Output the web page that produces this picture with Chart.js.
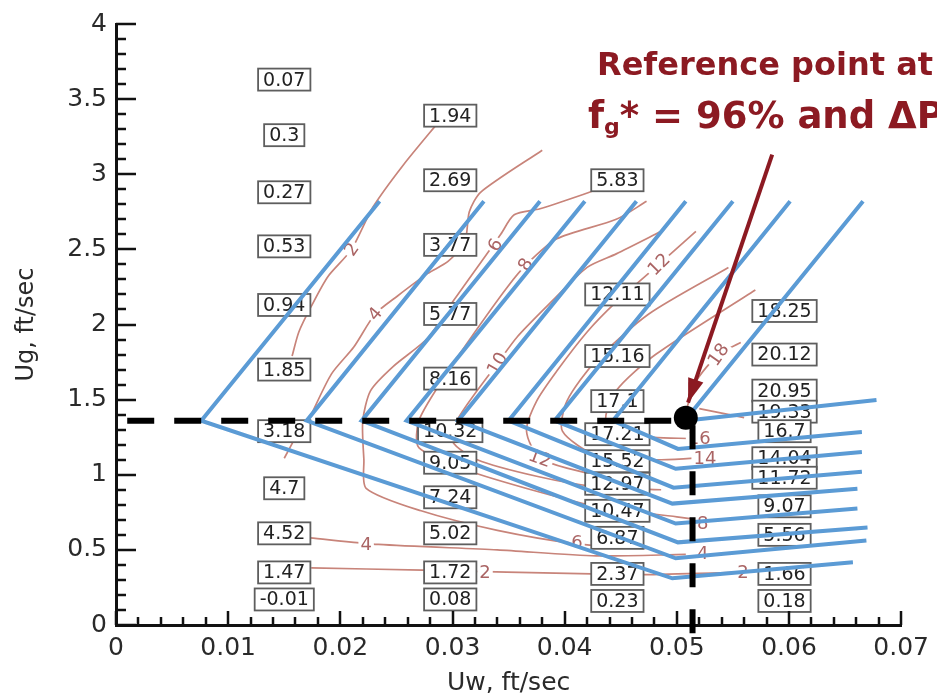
<!DOCTYPE html>
<html>
<head>
<meta charset="utf-8">
<script src="https://cdn.jsdelivr.net/npm/chart.js@4.4.1/dist/chart.umd.min.js"></script>
<style>
  html, body { margin: 0; padding: 0; background: #fff; }
</style>
</head>
<body>
<canvas id="ugChart" width="937" height="698"></canvas>
<script>
// --- chevron lines (blue): top end -> vertex on dashed line -> bend -> right end
const vertexX = [0.0076, 0.0170, 0.0219, 0.0259, 0.0305, 0.0350, 0.0391, 0.0443, 0.0507];
const vertexY = 1.36;
const topX = [0.0235, 0.0328, 0.0378, 0.0418, 0.0464, 0.0508, 0.0550, 0.0601, 0.0666];
const topY = 2.82;
const bendX = [0.0496, 0.0499, 0.0501, 0.0499, 0.0496, 0.0497, 0.0499, 0.0501, null];
const bendY = [0.311, 0.444, 0.550, 0.675, 0.808, 0.914, 1.040, 1.172, null];
const endX = [0.0657, 0.0669, 0.0670, 0.0661, 0.0661, 0.0665, 0.0665, 0.0665, 0.0678];
const endY = [0.417, 0.563, 0.649, 0.775, 0.907, 1.020, 1.152, 1.285, 1.497];

// --- reference point, dashed guides, arrow
const refPoint = { x: 0.0508, y: 1.38 };
const hDashX = [0.001, 0.0508];
const dashY = 1.36;
const vDashX = 0.0514;
const vDashY = [1.33, -0.15];
const arrowFrom = { x: 0.0585, y: 3.13 };
const arrowTo = { x: 0.0510, y: 1.48 };

// --- boxed values, one list per column
const boxColX = [0.0150, 0.0298, 0.0447, 0.0596];
const col1Text = ['0.07', '0.3', '0.27', '0.53', '0.94', '1.85', '3.18', '4.7', '4.52', '1.47', '-0.01'];
const col1Y = [3.63, 3.26, 2.88, 2.52, 2.13, 1.70, 1.29, 0.91, 0.61, 0.35, 0.17];
const col2Text = ['1.94', '2.69', '3.77', '5.77', '8.16', '10.32', '9.05', '7.24', '5.02', '1.72', '0.08'];
const col2Y = [3.39, 2.96, 2.53, 2.07, 1.64, 1.29, 1.08, 0.85, 0.61, 0.35, 0.17];
const col3Text = ['5.83', '12.11', '15.16', '17.1', '17.21', '15.52', '12.97', '10.47', '6.87', '2.37', '0.23'];
const col3Y = [2.96, 2.20, 1.79, 1.49, 1.27, 1.09, 0.94, 0.76, 0.58, 0.34, 0.16];
const col4Text = ['18.25', '20.12', '20.95', '19.33', '16.7', '14.04', '11.72', '9.07', '5.56', '1.66', '0.18'];
const col4Y = [2.09, 1.80, 1.56, 1.42, 1.29, 1.11, 0.98, 0.79, 0.60, 0.34, 0.16];

// --- contour lines [x, y]
const contour2a = [[0.0289, 3.36], [0.0256, 3.06], [0.0229, 2.78], [0.0210, 2.50], [0.0189, 2.32], [0.0174, 2.12], [0.0163, 1.95], [0.0157, 1.79]];
const contour2b = [[0.0163, 1.29], [0.0150, 1.11]];
const contour2c = [[0.0174, 0.38], [0.0273, 0.365], [0.0424, 0.34], [0.0470, 0.335], [0.0555, 0.35]];
const contour4a = [[0.0380, 3.16], [0.0325, 2.88], [0.0315, 2.75], [0.0311, 2.55], [0.0296, 2.42], [0.0278, 2.34], [0.0251, 2.19], [0.0231, 2.07], [0.0212, 1.85], [0.0192, 1.67], [0.0174, 1.40]];
const contour4b = [[0.0173, 0.58], [0.0234, 0.536], [0.0340, 0.50], [0.0428, 0.46], [0.0508, 0.47]];
const contour6 = [[0.0426, 2.89], [0.0378, 2.77], [0.0355, 2.73], [0.0343, 2.60], [0.0322, 2.38], [0.0300, 2.15], [0.0278, 1.91], [0.0247, 1.72], [0.0227, 1.56], [0.0220, 1.36], [0.0221, 1.10], [0.0223, 0.91], [0.0272, 0.76], [0.0340, 0.63], [0.0411, 0.54], [0.0473, 0.51]];
const contour8 = [[0.0473, 2.82], [0.0446, 2.70], [0.0393, 2.57], [0.0366, 2.40], [0.0349, 2.25], [0.0320, 1.95], [0.0290, 1.62], [0.0270, 1.36], [0.0270, 1.18], [0.0313, 1.03], [0.0375, 0.89], [0.0428, 0.79], [0.0500, 0.72], [0.0520, 0.70]];
const contour10 = [[0.0486, 2.62], [0.0446, 2.47], [0.0420, 2.38], [0.0388, 2.15], [0.0358, 1.92], [0.0340, 1.74], [0.0322, 1.56], [0.0304, 1.36], [0.0300, 1.22], [0.0322, 1.10], [0.0375, 0.99], [0.0428, 0.92], [0.0486, 0.90]];
const contour12 = [[0.0517, 2.62], [0.0484, 2.40], [0.0446, 2.15], [0.0420, 1.95], [0.0393, 1.69], [0.0375, 1.49], [0.0366, 1.29], [0.0378, 1.11], [0.0428, 1.00], [0.0480, 0.97]];
const contour14 = [[0.0546, 2.38], [0.0475, 2.07], [0.0428, 1.76], [0.0402, 1.49], [0.0398, 1.29], [0.0428, 1.13], [0.0480, 1.10], [0.0516, 1.11]];
const contour16 = [[0.0570, 2.23], [0.0481, 1.80], [0.0446, 1.56], [0.0437, 1.36], [0.0464, 1.26], [0.0516, 1.24]];
const contour18 = [[0.0557, 1.88], [0.0537, 1.80], [0.0517, 1.62], [0.0508, 1.42]];
const contour19 = [[0.0520, 1.44], [0.0560, 1.38]];
const contour20 = [[0.0577, 1.62], [0.0569, 1.55]];

const contourLabels = ['2', '4', '6', '8', '10', '12', '18', '12', '6', '4', '2', '16', '14', '8', '4', '2'];
const contourLabelX = [0.0210, 0.0231, 0.0338, 0.0365, 0.0340, 0.0484, 0.0537, 0.0378, 0.0411, 0.0223, 0.0329, 0.0520, 0.0525, 0.0523, 0.0523, 0.0559];
const contourLabelY = [2.50, 2.07, 2.53, 2.40, 1.74, 2.40, 1.80, 1.11, 0.55, 0.54, 0.35, 1.24, 1.11, 0.68, 0.48, 0.35];
const contourLabelAngle = [-55, -50, -60, -60, -60, -45, -55, 20, 0, 0, 0, 0, 0, 0, 0, 0];

// --- axes
const xMin = 0, xMax = 0.07, xStep = 0.01, xMinor = 0.002;
const yMin = 0, yMax = 4, yStep = 0.5, yMinor = 0.1;

const blue = 'rgb(91,155,213)';
const contourColor = 'rgb(200,132,122)';
const darkRed = '#8c1a22';
const font = '"DejaVu Sans", sans-serif';

const boxText = [col1Text, col2Text, col3Text, col4Text];
const boxY = [col1Y, col2Y, col3Y, col4Y];
const contours = [contour2a, contour2b, contour2c, contour4a, contour4b, contour6, contour8, contour10, contour12, contour14, contour16, contour18, contour19, contour20];

const datasets = [];
contours.forEach(c => {
    datasets.push({
        data: c.map(p => ({ x: p[0], y: p[1] })),
        showLine: true, borderColor: contourColor, borderWidth: 1.7,
        pointRadius: 0, tension: 0.25, order: 5
    });
});
vertexX.forEach((vx, i) => {
    const pts = [{ x: topX[i], y: topY }, { x: vx, y: vertexY }];
    if (bendX[i] !== null) pts.push({ x: bendX[i], y: bendY[i] });
    pts.push({ x: endX[i], y: endY[i] });
    datasets.push({
        layer: 'blue', data: pts, showLine: true, borderColor: blue,
        borderWidth: 4, pointRadius: 0, tension: 0, order: 3
    });
});
datasets.push({
    isArrow: true, data: [arrowFrom, arrowTo], showLine: true,
    borderColor: darkRed, borderWidth: 4, pointRadius: 0, order: 2
});
datasets.push({
    data: [{ x: hDashX[0], y: dashY }, { x: hDashX[1], y: dashY }],
    showLine: true, borderColor: '#000', borderWidth: 6, borderDash: [27, 20],
    borderCapStyle: 'butt', pointRadius: 0, order: 1
});
datasets.push({
    data: [{ x: vDashX, y: vDashY[0] }, { x: vDashX, y: vDashY[1] }],
    showLine: true, borderColor: '#000', borderWidth: 6, borderDash: [24, 22],
    borderCapStyle: 'butt', pointRadius: 0, order: 1, clip: false
});
datasets.push({
    data: [refPoint], pointRadius: 12, backgroundColor: '#000',
    borderWidth: 0, order: 0
});

let labelsDrawn = false;

function drawContourLabels(chart) {
    const { ctx, scales: { x, y } } = chart;
    ctx.save();
    ctx.font = '18px ' + font;
    ctx.textAlign = 'center';
    ctx.textBaseline = 'middle';
    contourLabels.forEach((t, i) => {
        const px = x.getPixelForValue(contourLabelX[i]);
        const py = y.getPixelForValue(contourLabelY[i]);
        ctx.save();
        ctx.translate(px, py);
        ctx.rotate(contourLabelAngle[i] * Math.PI / 180);
        const w = ctx.measureText(t).width + 4;
        ctx.fillStyle = '#fff';
        ctx.fillRect(-w / 2, -9, w, 18);
        ctx.fillStyle = 'rgb(170,100,100)';
        ctx.fillText(t, 0, 1);
        ctx.restore();
    });
    ctx.restore();
}

function drawBoxes(chart) {
    const { ctx, scales: { x, y } } = chart;
    ctx.save();
    ctx.font = '19px ' + font;
    ctx.textAlign = 'center';
    ctx.textBaseline = 'middle';
    boxColX.forEach((cx, c) => {
        boxText[c].forEach((t, i) => {
            const px = x.getPixelForValue(cx);
            const py = y.getPixelForValue(boxY[c][i]);
            const w = ctx.measureText(t).width + 10, h = 22;
            ctx.fillStyle = '#fff';
            ctx.fillRect(px - w / 2, py - h / 2, w, h);
            ctx.strokeStyle = '#5e5e5e';
            ctx.lineWidth = 1.8;
            ctx.strokeRect(px - w / 2, py - h / 2, w, h);
            ctx.fillStyle = '#222';
            ctx.fillText(t, px, py + 1);
        });
    });
    ctx.restore();
}

const overlayPlugin = {
    id: 'overlay',
    beforeDatasetsDraw() { labelsDrawn = false; },
    beforeDatasetDraw(chart, args) {
        const ds = chart.data.datasets[args.index];
        if (ds.layer === 'blue' && !labelsDrawn) {
            drawContourLabels(chart);
            drawBoxes(chart);
            labelsDrawn = true;
        }
    },
    afterDatasetDraw(chart, args) {
        const ds = chart.data.datasets[args.index];
        if (!ds.isArrow) return;
        // arrow head at the end of the arrow line
        const pts = args.meta.data;
        const p0 = pts[0], p1 = pts[1];
        const a = Math.atan2(p1.y - p0.y, p1.x - p0.x);
        const ctx = chart.ctx;
        ctx.save();
        ctx.translate(p1.x, p1.y);
        ctx.rotate(a);
        ctx.beginPath();
        ctx.moveTo(0, 0);
        ctx.lineTo(-24, -8);
        ctx.lineTo(-24, 8);
        ctx.closePath();
        ctx.fillStyle = darkRed;
        ctx.fill();
        ctx.restore();
    },
    afterDraw(chart) {
        const { ctx, chartArea: area, scales: { x, y } } = chart;
        ctx.save();
        // inward tick marks
        ctx.strokeStyle = '#111';
        ctx.lineWidth = 2.5;
        ctx.beginPath();
        for (let k = 0; k <= Math.round((xMax - xMin) / xMinor); k++) {
            const v = xMin + k * xMinor;
            const major = k % Math.round(xStep / xMinor) === 0;
            const px = Math.round(x.getPixelForValue(v));
            ctx.moveTo(px, area.bottom);
            ctx.lineTo(px, area.bottom - (major ? 14 : 8));
        }
        for (let k = 0; k <= Math.round((yMax - yMin) / yMinor); k++) {
            const v = yMin + k * yMinor;
            const major = k % Math.round(yStep / yMinor) === 0;
            const py = Math.round(y.getPixelForValue(v));
            ctx.moveTo(area.left, py);
            ctx.lineTo(area.left + (major ? 20 : 10), py);
        }
        ctx.stroke();

        // annotation text
        ctx.fillStyle = darkRed;
        ctx.textBaseline = 'alphabetic';
        ctx.textAlign = 'left';
        ctx.font = 'bold 32px ' + font;
        ctx.fillText('Reference point at', 597, 75);
        ctx.font = 'bold 37px ' + font;
        let tx = 588;
        ctx.fillText('f', tx, 128);
        tx += ctx.measureText('f').width;
        ctx.font = 'bold 22px ' + font;
        ctx.fillText('g', tx, 134);
        tx += ctx.measureText('g').width;
        ctx.font = 'bold 37px ' + font;
        ctx.fillText('* = 96% and \u0394P', tx, 128);
        ctx.restore();
    }
};

const tickLabel = v => String(Number(Number(v).toFixed(4)));

new Chart(document.getElementById('ugChart').getContext('2d'), {
    type: 'scatter',
    data: { datasets: datasets },
    options: {
        responsive: false,
        animation: false,
        events: [],
        layout: { padding: { top: 21, right: 30, left: 0, bottom: 0 } },
        plugins: { legend: { display: false }, tooltip: { enabled: false } },
        scales: {
            x: {
                type: 'linear', min: xMin, max: xMax,
                afterFit: s => { s.height = 73; },
                grid: { display: false, drawTicks: false },
                border: { display: true, color: '#111', width: 3 },
                ticks: {
                    stepSize: xStep, padding: 8, maxRotation: 0, autoSkip: false,
                    color: '#2a2a2a', font: { family: font, size: 25 },
                    callback: tickLabel
                },
                title: {
                    display: true, text: 'Uw, ft/sec', color: '#2a2a2a',
                    font: { family: font, size: 25 }, padding: { top: 0, bottom: 0 }
                }
            },
            y: {
                type: 'linear', min: yMin, max: yMax,
                afterFit: s => { s.width = 116; },
                grid: { display: false, drawTicks: false },
                border: { display: true, color: '#111', width: 3 },
                ticks: {
                    stepSize: yStep, padding: 9, autoSkip: false,
                    color: '#2a2a2a', font: { family: font, size: 25 },
                    callback: tickLabel
                },
                title: {
                    display: true, text: 'Ug, ft/sec', color: '#2a2a2a',
                    font: { family: font, size: 24 }, padding: { top: 12, bottom: 0 }
                }
            }
        }
    },
    plugins: [overlayPlugin]
});
</script>
</body>
</html>
